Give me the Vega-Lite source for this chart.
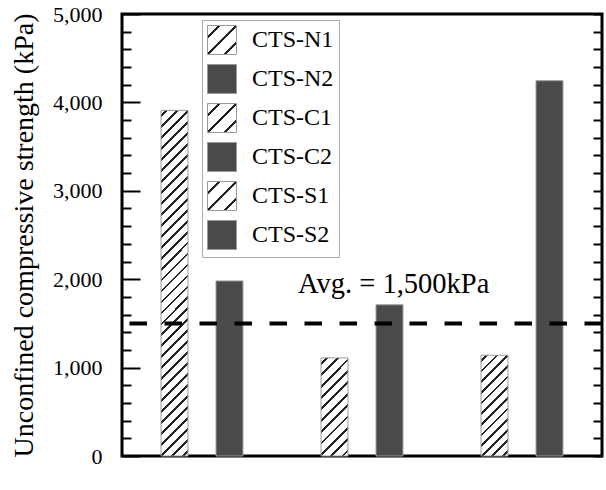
{
  "$schema": "https://vega.github.io/schema/vega-lite/v6.json",
  "autosize": {"type": "none"},
  "padding": {"left": 122, "top": 14, "right": 4, "bottom": 34},
  "width": 480,
  "height": 442,
  "config": {
    "view": {"stroke": "black", "strokeWidth": 3},
    "font": "'Liberation Serif', 'Times New Roman', serif"
  },
  "params": [
    {"name": "gN", "value": {"gradient": "linear", "x1": 0, "y1": 0, "x2": 0.0837, "y2": 1.0716, "stops": [
      {"offset": 0.0118, "color": "#fff"}, {"offset": 0.0118, "color": "#222"}, {"offset": 0.0194, "color": "#222"}, {"offset": 0.0194, "color": "#fff"},
      {"offset": 0.0412, "color": "#fff"}, {"offset": 0.0412, "color": "#222"}, {"offset": 0.0488, "color": "#222"}, {"offset": 0.0488, "color": "#fff"},
      {"offset": 0.0706, "color": "#fff"}, {"offset": 0.0706, "color": "#222"}, {"offset": 0.0782, "color": "#222"}, {"offset": 0.0782, "color": "#fff"},
      {"offset": 0.1000, "color": "#fff"}, {"offset": 0.1000, "color": "#222"}, {"offset": 0.1076, "color": "#222"}, {"offset": 0.1076, "color": "#fff"},
      {"offset": 0.1294, "color": "#fff"}, {"offset": 0.1294, "color": "#222"}, {"offset": 0.1370, "color": "#222"}, {"offset": 0.1370, "color": "#fff"},
      {"offset": 0.1588, "color": "#fff"}, {"offset": 0.1588, "color": "#222"}, {"offset": 0.1664, "color": "#222"}, {"offset": 0.1664, "color": "#fff"},
      {"offset": 0.1882, "color": "#fff"}, {"offset": 0.1882, "color": "#222"}, {"offset": 0.1958, "color": "#222"}, {"offset": 0.1958, "color": "#fff"},
      {"offset": 0.2176, "color": "#fff"}, {"offset": 0.2176, "color": "#222"}, {"offset": 0.2252, "color": "#222"}, {"offset": 0.2252, "color": "#fff"},
      {"offset": 0.2471, "color": "#fff"}, {"offset": 0.2471, "color": "#222"}, {"offset": 0.2547, "color": "#222"}, {"offset": 0.2547, "color": "#fff"},
      {"offset": 0.2765, "color": "#fff"}, {"offset": 0.2765, "color": "#222"}, {"offset": 0.2841, "color": "#222"}, {"offset": 0.2841, "color": "#fff"},
      {"offset": 0.3059, "color": "#fff"}, {"offset": 0.3059, "color": "#222"}, {"offset": 0.3135, "color": "#222"}, {"offset": 0.3135, "color": "#fff"},
      {"offset": 0.3353, "color": "#fff"}, {"offset": 0.3353, "color": "#222"}, {"offset": 0.3429, "color": "#222"}, {"offset": 0.3429, "color": "#fff"},
      {"offset": 0.3647, "color": "#fff"}, {"offset": 0.3647, "color": "#222"}, {"offset": 0.3723, "color": "#222"}, {"offset": 0.3723, "color": "#fff"},
      {"offset": 0.3941, "color": "#fff"}, {"offset": 0.3941, "color": "#222"}, {"offset": 0.4017, "color": "#222"}, {"offset": 0.4017, "color": "#fff"},
      {"offset": 0.4235, "color": "#fff"}, {"offset": 0.4235, "color": "#222"}, {"offset": 0.4311, "color": "#222"}, {"offset": 0.4311, "color": "#fff"},
      {"offset": 0.4529, "color": "#fff"}, {"offset": 0.4529, "color": "#222"}, {"offset": 0.4605, "color": "#222"}, {"offset": 0.4605, "color": "#fff"},
      {"offset": 0.4824, "color": "#fff"}, {"offset": 0.4824, "color": "#222"}, {"offset": 0.4900, "color": "#222"}, {"offset": 0.4900, "color": "#fff"},
      {"offset": 0.5118, "color": "#fff"}, {"offset": 0.5118, "color": "#222"}, {"offset": 0.5194, "color": "#222"}, {"offset": 0.5194, "color": "#fff"},
      {"offset": 0.5412, "color": "#fff"}, {"offset": 0.5412, "color": "#222"}, {"offset": 0.5488, "color": "#222"}, {"offset": 0.5488, "color": "#fff"},
      {"offset": 0.5706, "color": "#fff"}, {"offset": 0.5706, "color": "#222"}, {"offset": 0.5782, "color": "#222"}, {"offset": 0.5782, "color": "#fff"},
      {"offset": 0.6000, "color": "#fff"}, {"offset": 0.6000, "color": "#222"}, {"offset": 0.6076, "color": "#222"}, {"offset": 0.6076, "color": "#fff"},
      {"offset": 0.6294, "color": "#fff"}, {"offset": 0.6294, "color": "#222"}, {"offset": 0.6370, "color": "#222"}, {"offset": 0.6370, "color": "#fff"},
      {"offset": 0.6588, "color": "#fff"}, {"offset": 0.6588, "color": "#222"}, {"offset": 0.6664, "color": "#222"}, {"offset": 0.6664, "color": "#fff"},
      {"offset": 0.6882, "color": "#fff"}, {"offset": 0.6882, "color": "#222"}, {"offset": 0.6958, "color": "#222"}, {"offset": 0.6958, "color": "#fff"},
      {"offset": 0.7176, "color": "#fff"}, {"offset": 0.7176, "color": "#222"}, {"offset": 0.7252, "color": "#222"}, {"offset": 0.7252, "color": "#fff"},
      {"offset": 0.7471, "color": "#fff"}, {"offset": 0.7471, "color": "#222"}, {"offset": 0.7547, "color": "#222"}, {"offset": 0.7547, "color": "#fff"},
      {"offset": 0.7765, "color": "#fff"}, {"offset": 0.7765, "color": "#222"}, {"offset": 0.7841, "color": "#222"}, {"offset": 0.7841, "color": "#fff"},
      {"offset": 0.8059, "color": "#fff"}, {"offset": 0.8059, "color": "#222"}, {"offset": 0.8135, "color": "#222"}, {"offset": 0.8135, "color": "#fff"},
      {"offset": 0.8353, "color": "#fff"}, {"offset": 0.8353, "color": "#222"}, {"offset": 0.8429, "color": "#222"}, {"offset": 0.8429, "color": "#fff"},
      {"offset": 0.8647, "color": "#fff"}, {"offset": 0.8647, "color": "#222"}, {"offset": 0.8723, "color": "#222"}, {"offset": 0.8723, "color": "#fff"},
      {"offset": 0.8941, "color": "#fff"}, {"offset": 0.8941, "color": "#222"}, {"offset": 0.9017, "color": "#222"}, {"offset": 0.9017, "color": "#fff"},
      {"offset": 0.9235, "color": "#fff"}, {"offset": 0.9235, "color": "#222"}, {"offset": 0.9311, "color": "#222"}, {"offset": 0.9311, "color": "#fff"},
      {"offset": 0.9529, "color": "#fff"}, {"offset": 0.9529, "color": "#222"}, {"offset": 0.9605, "color": "#222"}, {"offset": 0.9605, "color": "#fff"},
      {"offset": 0.9824, "color": "#fff"}, {"offset": 0.9824, "color": "#222"}, {"offset": 0.9900, "color": "#222"}, {"offset": 0.9900, "color": "#fff"}
    ]}},
    {"name": "gC", "value": {"gradient": "linear", "x1": 0, "y1": 0, "x2": 0.3262, "y2": 1.1854, "stops": [
      {"offset": 0.0364, "color": "#fff"}, {"offset": 0.0364, "color": "#222"}, {"offset": 0.0590, "color": "#222"}, {"offset": 0.0590, "color": "#fff"},
      {"offset": 0.1273, "color": "#fff"}, {"offset": 0.1273, "color": "#222"}, {"offset": 0.1499, "color": "#222"}, {"offset": 0.1499, "color": "#fff"},
      {"offset": 0.2182, "color": "#fff"}, {"offset": 0.2182, "color": "#222"}, {"offset": 0.2408, "color": "#222"}, {"offset": 0.2408, "color": "#fff"},
      {"offset": 0.3091, "color": "#fff"}, {"offset": 0.3091, "color": "#222"}, {"offset": 0.3317, "color": "#222"}, {"offset": 0.3317, "color": "#fff"},
      {"offset": 0.4000, "color": "#fff"}, {"offset": 0.4000, "color": "#222"}, {"offset": 0.4226, "color": "#222"}, {"offset": 0.4226, "color": "#fff"},
      {"offset": 0.4909, "color": "#fff"}, {"offset": 0.4909, "color": "#222"}, {"offset": 0.5135, "color": "#222"}, {"offset": 0.5135, "color": "#fff"},
      {"offset": 0.5818, "color": "#fff"}, {"offset": 0.5818, "color": "#222"}, {"offset": 0.6044, "color": "#222"}, {"offset": 0.6044, "color": "#fff"},
      {"offset": 0.6727, "color": "#fff"}, {"offset": 0.6727, "color": "#222"}, {"offset": 0.6953, "color": "#222"}, {"offset": 0.6953, "color": "#fff"},
      {"offset": 0.7636, "color": "#fff"}, {"offset": 0.7636, "color": "#222"}, {"offset": 0.7862, "color": "#222"}, {"offset": 0.7862, "color": "#fff"},
      {"offset": 0.8545, "color": "#fff"}, {"offset": 0.8545, "color": "#222"}, {"offset": 0.8771, "color": "#222"}, {"offset": 0.8771, "color": "#fff"},
      {"offset": 0.9455, "color": "#fff"}, {"offset": 0.9455, "color": "#222"}, {"offset": 0.9681, "color": "#222"}, {"offset": 0.9681, "color": "#fff"}
    ]}},
    {"name": "gS", "value": {"gradient": "linear", "x1": 0, "y1": 0, "x2": 0.3169, "y2": 1.1830, "stops": [
      {"offset": 0.0333, "color": "#fff"}, {"offset": 0.0333, "color": "#222"}, {"offset": 0.0554, "color": "#222"}, {"offset": 0.0554, "color": "#fff"},
      {"offset": 0.1167, "color": "#fff"}, {"offset": 0.1167, "color": "#222"}, {"offset": 0.1388, "color": "#222"}, {"offset": 0.1388, "color": "#fff"},
      {"offset": 0.2000, "color": "#fff"}, {"offset": 0.2000, "color": "#222"}, {"offset": 0.2221, "color": "#222"}, {"offset": 0.2221, "color": "#fff"},
      {"offset": 0.2833, "color": "#fff"}, {"offset": 0.2833, "color": "#222"}, {"offset": 0.3054, "color": "#222"}, {"offset": 0.3054, "color": "#fff"},
      {"offset": 0.3667, "color": "#fff"}, {"offset": 0.3667, "color": "#222"}, {"offset": 0.3888, "color": "#222"}, {"offset": 0.3888, "color": "#fff"},
      {"offset": 0.4500, "color": "#fff"}, {"offset": 0.4500, "color": "#222"}, {"offset": 0.4721, "color": "#222"}, {"offset": 0.4721, "color": "#fff"},
      {"offset": 0.5333, "color": "#fff"}, {"offset": 0.5333, "color": "#222"}, {"offset": 0.5554, "color": "#222"}, {"offset": 0.5554, "color": "#fff"},
      {"offset": 0.6167, "color": "#fff"}, {"offset": 0.6167, "color": "#222"}, {"offset": 0.6388, "color": "#222"}, {"offset": 0.6388, "color": "#fff"},
      {"offset": 0.7000, "color": "#fff"}, {"offset": 0.7000, "color": "#222"}, {"offset": 0.7221, "color": "#222"}, {"offset": 0.7221, "color": "#fff"},
      {"offset": 0.7833, "color": "#fff"}, {"offset": 0.7833, "color": "#222"}, {"offset": 0.8054, "color": "#222"}, {"offset": 0.8054, "color": "#fff"},
      {"offset": 0.8667, "color": "#fff"}, {"offset": 0.8667, "color": "#222"}, {"offset": 0.8888, "color": "#222"}, {"offset": 0.8888, "color": "#fff"},
      {"offset": 0.9500, "color": "#fff"}, {"offset": 0.9500, "color": "#222"}, {"offset": 0.9721, "color": "#222"}, {"offset": 0.9721, "color": "#fff"}
    ]}},
    {"name": "gL", "value": {"gradient": "linear", "x1": 0, "y1": 0, "x2": 1, "y2": 1, "stops": [
      {"offset": 0.175, "color": "#fff"}, {"offset": 0.175, "color": "#222"}, {"offset": 0.225, "color": "#222"}, {"offset": 0.225, "color": "#fff"},
      {"offset": 0.475, "color": "#fff"}, {"offset": 0.475, "color": "#222"}, {"offset": 0.525, "color": "#222"}, {"offset": 0.525, "color": "#fff"},
      {"offset": 0.775, "color": "#fff"}, {"offset": 0.775, "color": "#222"}, {"offset": 0.825, "color": "#222"}, {"offset": 0.825, "color": "#fff"}
    ]}}
  ],
  "resolve": {"axis": {"y": "independent"}, "scale": {"y": "shared"}},
  "layer": [
    {
      "data": {
        "values": [
          {"site": "Nor", "type": "1", "series": "CTS-N1", "value": 3910},
          {"site": "Nor", "type": "2", "series": "CTS-N2", "value": 1980},
          {"site": "Cen", "type": "1", "series": "CTS-C1", "value": 1110},
          {"site": "Cen", "type": "2", "series": "CTS-C2", "value": 1710},
          {"site": "Sou", "type": "1", "series": "CTS-S1", "value": 1140},
          {"site": "Sou", "type": "2", "series": "CTS-S2", "value": 4245}
        ]
      },
      "mark": {
        "type": "bar",
        "strokeWidth": 1,
        "fill": {"expr": "datum.series ? (datum.series === 'CTS-N1' ? gN : datum.series === 'CTS-C1' ? gC : datum.series === 'CTS-S1' ? gS : '#4a4a4a') : ((datum.value === 'CTS-N1' || datum.value === 'CTS-C1' || datum.value === 'CTS-S1') ? gL : '#4a4a4a')"}
      },
      "encoding": {
        "x": {
          "field": "site", "type": "nominal",
          "scale": {"domain": ["Nor", "Cen", "Sou"], "paddingInner": 0, "paddingOuter": 0},
          "axis": {"orient": "bottom", "ticks": false, "domain": false, "title": null, "labelAngle": 0,
                   "labelFont": "'Liberation Serif', 'Times New Roman', serif", "labelFontSize": 26, "labelColor": "black", "labelPadding": 5}
        },
        "xOffset": {"field": "type", "type": "nominal", "scale": {"paddingInner": 0.51, "paddingOuter": 0.71}},
        "y": {
          "field": "value", "type": "quantitative",
          "scale": {"domain": [0, 5000], "nice": false},
          "axis": {
            "orient": "left",
            "offset": -18,
            "zindex": 1,
            "values": [0, 1000, 2000, 3000, 4000, 5000],
            "labelExpr": "format(datum.value, ',')",
            "labelOverlap": false,
            "labelFlush": false,
            "ticks": true,
            "tickSize": 18,
            "tickWidth": 2,
            "tickColor": "black",
            "tickOpacity": 1,
            "domain": false,
            "grid": false,
            "labelFont": "'Liberation Serif', 'Times New Roman', serif",
            "labelFontSize": 22,
            "labelColor": "black",
            "labelPadding": 20,
            "title": "Unconfined compressive strength (kPa)",
            "titleFont": "'Liberation Serif', 'Times New Roman', serif",
            "titleFontSize": 28,
            "titleFontWeight": "normal",
            "titleColor": "black",
            "titleX": -102,
            "titleY": 221
          }
        },
        "stroke": {
          "field": "series", "type": "nominal",
          "scale": {
            "domain": ["CTS-N1", "CTS-N2", "CTS-C1", "CTS-C2", "CTS-S1", "CTS-S2"],
            "range": ["#999999", "#999999", "#999999", "#999999", "#999999", "#999999"]
          },
          "legend": {
            "title": null,
            "orient": "none",
            "legendX": 80,
            "legendY": 6,
            "symbolType": "square",
            "symbolSize": 841,
            "symbolStrokeColor": "#999999",
            "symbolStrokeWidth": 1,
            "symbolOpacity": 1,
            "labelFont": "'Liberation Serif', 'Times New Roman', serif",
            "labelFontSize": 24,
            "labelColor": "black",
            "labelOffset": 15,
            "rowPadding": 5,
            "padding": 5,
            "strokeColor": "#aaaaaa",
            "fillColor": "white"
          }
        }
      }
    },
    {
      "data": {"values": [{"avg": 1500}]},
      "mark": {"type": "rule", "color": "black", "strokeWidth": 4, "strokeDash": [17.5, 17.5]},
      "encoding": {
        "y": {
          "field": "avg", "type": "quantitative",
          "axis": {
            "orient": "right",
            "offset": -9,
            "zindex": 1,
            "values": [0,200,400,600,800,1000,1200,1400,1600,1800,2000,2200,2400,2600,2800,3000,3200,3400,3600,3800,4000,4200,4400,4600,4800,5000],
            "labels": false,
            "ticks": true,
            "tickSize": 9,
            "tickWidth": 2,
            "tickColor": "black",
            "tickOpacity": 1,
            "domain": false,
            "grid": false,
            "title": null
          }
        }
      }
    },
    {
      "data": {"values": [{"label": "Avg. = 1,500kPa", "site": "Cen", "avg": 1500}]},
      "mark": {"type": "text", "font": "'Liberation Serif', 'Times New Roman', serif", "fontWeight": "normal", "fontSize": 28.5, "align": "left", "baseline": "alphabetic", "dx": -64, "dy": -30, "color": "black"},
      "encoding": {
        "text": {"field": "label"},
        "x": {"field": "site", "type": "nominal", "axis": null},
        "y": {
          "field": "avg", "type": "quantitative",
          "axis": {
            "orient": "left",
            "offset": -9,
            "zindex": 1,
            "values": [200,400,600,800,1200,1400,1600,1800,2200,2400,2600,2800,3200,3400,3600,3800,4200,4400,4600,4800],
            "labels": false,
            "ticks": true,
            "tickSize": 9,
            "tickWidth": 2,
            "tickColor": "black",
            "tickOpacity": 1,
            "domain": false,
            "grid": false,
            "title": null
          }
        }
      }
    }
  ]
}
